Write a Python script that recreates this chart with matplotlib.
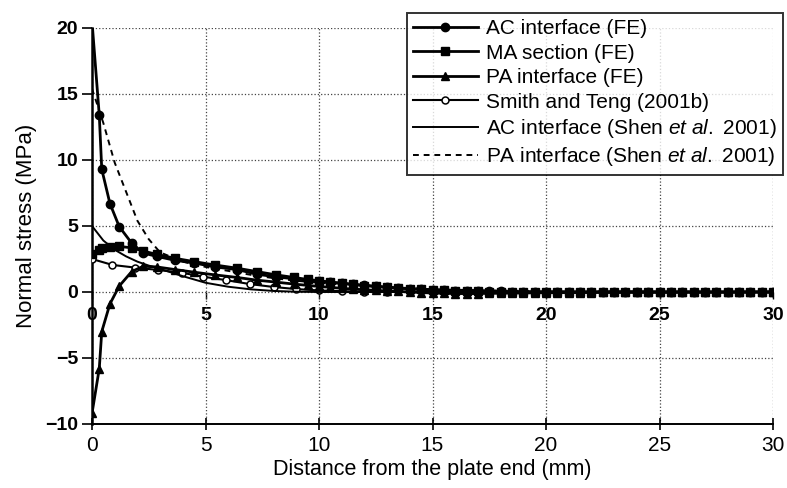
import matplotlib
matplotlib.use("Agg")
import matplotlib.pyplot as plt

plt.rcParams['font.family'] = ['Liberation Sans', 'DejaVu Sans']
plt.rcParams['mathtext.fontset'] = 'custom'
plt.rcParams['mathtext.rm'] = 'Liberation Sans'
plt.rcParams['mathtext.it'] = 'Liberation Sans:italic'

# ---- data ----
x_fe = [0, 0.32, 0.43, 0.79, 1.2, 1.75, 2.26, 2.85, 3.66, 4.5, 5.4, 6.4, 7.25, 8.1, 8.9,
        9.5, 10, 10.5, 11, 11.5, 12, 12.5, 13, 13.5, 14, 14.5, 15, 15.5, 16, 16.5,
        17, 17.5, 18, 18.5, 19, 19.5, 20, 20.5, 21, 21.5, 22, 22.5, 23, 23.5, 24,
        24.5, 25, 25.5, 26, 26.5, 27, 27.5, 28, 28.5, 29, 29.5, 30]

ac_fe = [20.5, 13.4, 9.3, 6.7, 4.95, 3.7, 2.95, 2.7, 2.4, 2.2, 1.9, 1.7, 1.35, 1.15, 1.0,
         0.9, 0.82, 0.74, 0.66, 0.58, 0.5, 0.43, 0.37, 0.31, 0.26, 0.21, 0.17, 0.13, 0.1, 0.08,
         0.06, 0.05, 0.04, 0.03, 0.03, 0.02, 0.02, 0.02, 0.01, 0.01, 0.01, 0.01, 0.01, 0.01, 0.01,
         0.0, 0.0, 0.0, 0.0, 0.0, 0.0, 0.0, 0.0, 0.0, 0.0, 0.0, 0.0]

ma_fe = [2.9, 3.2, 3.3, 3.4, 3.45, 3.35, 3.1, 2.85, 2.55, 2.3, 2.05, 1.8, 1.55, 1.3, 1.1,
         0.95, 0.85, 0.75, 0.66, 0.57, 0.49, 0.42, 0.35, 0.29, 0.24, 0.19, 0.15, 0.12, 0.09, 0.07,
         0.05, 0.03, 0.02, 0.01, 0.0, 0.0, 0.0, 0.0, 0.0, 0.0, 0.0, 0.0, 0.0, 0.0, 0.0,
         0.0, 0.0, 0.0, 0.0, 0.0, 0.0, 0.0, 0.0, 0.0, 0.0, 0.0, 0.0]

pa_fe = [-9.2, -5.8, -3.0, -0.9, 0.45, 1.55, 1.95, 1.9, 1.7, 1.5, 1.3, 1.1, 0.9, 0.75, 0.6,
         0.5, 0.42, 0.35, 0.28, 0.22, 0.17, 0.12, 0.08, 0.04, 0.0, -0.04, -0.08, -0.1, -0.12, -0.12,
         -0.12, -0.1, -0.1, -0.08, -0.08, -0.06, -0.06, -0.05, -0.05, -0.04, -0.04, -0.03, -0.03, -0.03, -0.02,
         -0.02, -0.02, -0.02, -0.01, -0.01, -0.01, -0.01, -0.01, 0.0, 0.0, 0.0, 0.0]

x_st = [0, 0.9, 1.9, 2.9, 3.95, 4.9, 5.9, 6.96, 8.0, 9.0, 10, 11, 12, 13, 14, 15, 16, 17,
        18, 19, 20, 21, 22, 23, 24, 25, 26, 27, 28, 29, 30]
smith_teng = [2.5, 2.05, 1.85, 1.67, 1.46, 1.16, 0.9, 0.6, 0.38, 0.22, 0.12, 0.06, 0.03, 0.01, 0.0,
              0.0, 0.0, 0.0, 0.0, 0.0, 0.0, 0.0, 0.0, 0.0, 0.0, 0.0, 0.0, 0.0, 0.0, 0.0, 0.0]

x_shen = [0, 0.5, 1, 1.5, 2, 2.5, 3, 4, 5, 6, 7, 8, 9, 10, 12, 15, 20, 30]
ac_shen = [5.0, 3.9, 3.2, 2.7, 2.3, 2.0, 1.75, 1.2, 0.7, 0.4, 0.2, 0.08, 0.02, 0.0, 0.0, 0.0, 0.0, 0.0]
pa_shen = [15.4, 12.8, 9.8, 7.6, 5.4, 4.0, 3.0, 2.3, 1.9, 1.6, 1.3, 1.05, 0.85, 0.7, 0.45, 0.2, 0.05, 0.0]

labels = ["AC interface (FE)", "MA section (FE)", "PA interface (FE)",
          "Smith and Teng (2001b)", "AC interface (Shen $\\mathit{et\\ al.}\\ $2001)",
          "PA interface (Shen $\\mathit{et\\ al.}\\ $2001)"]

xticks = [0, 5, 10, 15, 20, 25, 30]
yticks = [-10, -5, 0, 5, 10, 15, 20]

# ---- figure ----
fig = plt.figure(figsize=(7.87, 4.88), dpi=100)
ax = fig.add_axes([92/787, 64/488, 681/787, 396/488])

ax.plot(x_fe, ac_fe, '-', color='black', lw=2.0, marker='o', ms=6, label=labels[0], zorder=5)
ax.plot(x_fe, ma_fe, '-', color='black', lw=2.0, marker='s', ms=6, label=labels[1], zorder=5)
ax.plot(x_fe, pa_fe, '-', color='black', lw=2.0, marker='^', ms=6, label=labels[2], zorder=5)
ax.plot(x_st, smith_teng, '-', color='black', lw=1.5, marker='o', ms=5, mfc='white',
        mew=1.1, label=labels[3], zorder=4)
ax.plot(x_shen, ac_shen, '-', color='black', lw=1.4, label=labels[4], zorder=4)
ax.plot(x_shen, pa_shen, '--', color='black', lw=1.4, dashes=(3, 2.5), label=labels[5], zorder=4)

ax.set_xlim(0, 30)
ax.set_ylim(-10, 20)
ax.set_xticks(xticks)
ax.set_yticks(yticks)
ax.grid(True, linestyle=':', color='#444444', lw=0.9)
ax.set_axisbelow(True)

for s in ['top', 'right']:
    ax.spines[s].set_visible(False)
ax.spines['left'].set_linewidth(1.8)
ax.spines['bottom'].set_linewidth(1.4)
ax.tick_params(axis='y', direction='out', length=7, width=1.2, labelsize=14, pad=3)
for t in ax.get_yticklabels():
    t.set_fontweight('bold')
ax.tick_params(axis='x', direction='inout', length=9, width=1.2, labelsize=15, pad=4)

sec = ax.secondary_xaxis(1/3)
sec.set_xticks(xticks)
sec.spines['bottom'].set_visible(False)
sec.spines['top'].set_visible(False)
sec.tick_params(axis='x', direction='out', length=5, width=1.0, labelsize=14, pad=6)
for t in sec.get_xticklabels():
    t.set_fontweight('bold')

ax.set_xlabel("Distance from the plate end (mm)", fontsize=15.5, labelpad=3)
ax.set_ylabel("Normal stress (MPa)", fontsize=16, labelpad=6)

leg = ax.legend(loc='upper right', bbox_to_anchor=(783/787, 1 - 13/488),
                bbox_transform=fig.transFigure, fontsize=15, frameon=True,
                fancybox=False, edgecolor='black', handlelength=3.1,
                labelspacing=0.26, borderpad=0.3, handletextpad=0.4, borderaxespad=0)
leg.get_frame().set_linewidth(1.4)
leg.set_zorder(10)

fig.savefig("out.png", dpi=100)
